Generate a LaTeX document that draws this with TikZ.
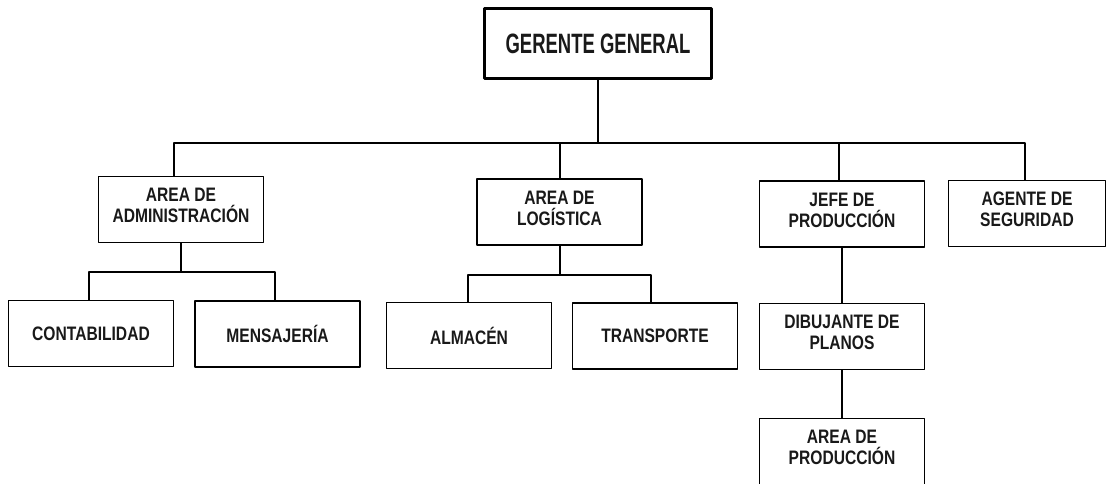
\documentclass[tikz,border=0pt]{standalone}
\usepackage{fontspec}
\setmainfont[FakeStretch=0.8]{Liberation Sans}
\newfontfamily\topfont[FakeStretch=0.66]{Liberation Sans}
\newcommand{\lift}{\rule[-8pt]{0pt}{8pt}}
\begin{document}
\begin{tikzpicture}[x=1pt,y=-1pt, line join=round, line cap=rect,
	font=\bfseries\fontsize{19.5}{21}\selectfont, text=black!90,
	box/.style={draw, line width=1.5pt, minimum width=165pt, minimum height=66pt, align=center, inner sep=0pt},
	link/.style={line width=2pt}]
	\useasboundingbox (0,0) rectangle (1108,483);
	% nodos
	\node[box, line width=3.2pt, minimum width=227pt, minimum height=70pt, font=\topfont\bfseries\fontsize{28}{30}\selectfont] (gg) at (598,43.5) {GERENTE GENERAL};
	\node[box] (admin) at (181,209.5) {AREA DE\\ADMINISTRACIÓN\lift};
	\node[box] (logis) at (559.5,212) {AREA DE\\LOGÍSTICA\lift};
	\node[box] (jefe) at (842,214) {JEFE DE\\PRODUCCIÓN\lift};
	\node[box, minimum width=157pt] (agente) at (1027,213.5) {AGENTE DE\\SEGURIDAD\lift};
	\node[box] (conta) at (91,333.5) {CONTABILIDAD};
	\node[box] (mensa) at (277.5,334) {MENSAJERÍA};
	\node[box] (almac) at (469,335.5) {ALMACÉN};
	\node[box] (trans) at (655,336) {TRANSPORTE};
	\node[box] (dibu) at (842,336.5) {DIBUJANTE DE\\PLANOS\lift};
	\node[box] (prod) at (842,451.5) {AREA DE\\PRODUCCIÓN\lift};
	% lineas
	\coordinate (bus) at (598,143);
	\draw[link] (gg.south)--(bus);
	\draw[link] ([xshift=-7pt]admin.north) |- (bus) -| ([xshift=-2pt]agente.north);
	\draw[link] (bus) -| (logis.north);
	\draw[link] (bus) -| ([xshift=-3pt]jefe.north);
	\draw[link] (admin.south)--++(0,29) coordinate (ad);
	\draw[link] ([xshift=-2pt]conta.north) |- (ad) -| ([xshift=-3pt]mensa.north);
	\draw[link] (logis.south)--++(0,29) coordinate (lo);
	\draw[link] ([xshift=-1pt]almac.north) |- (lo) -| ([xshift=-4pt]trans.north);
	\draw[link] (jefe.south)--(dibu.north);
	\draw[link] (dibu.south)--(prod.north);
\end{tikzpicture}
\end{document}
